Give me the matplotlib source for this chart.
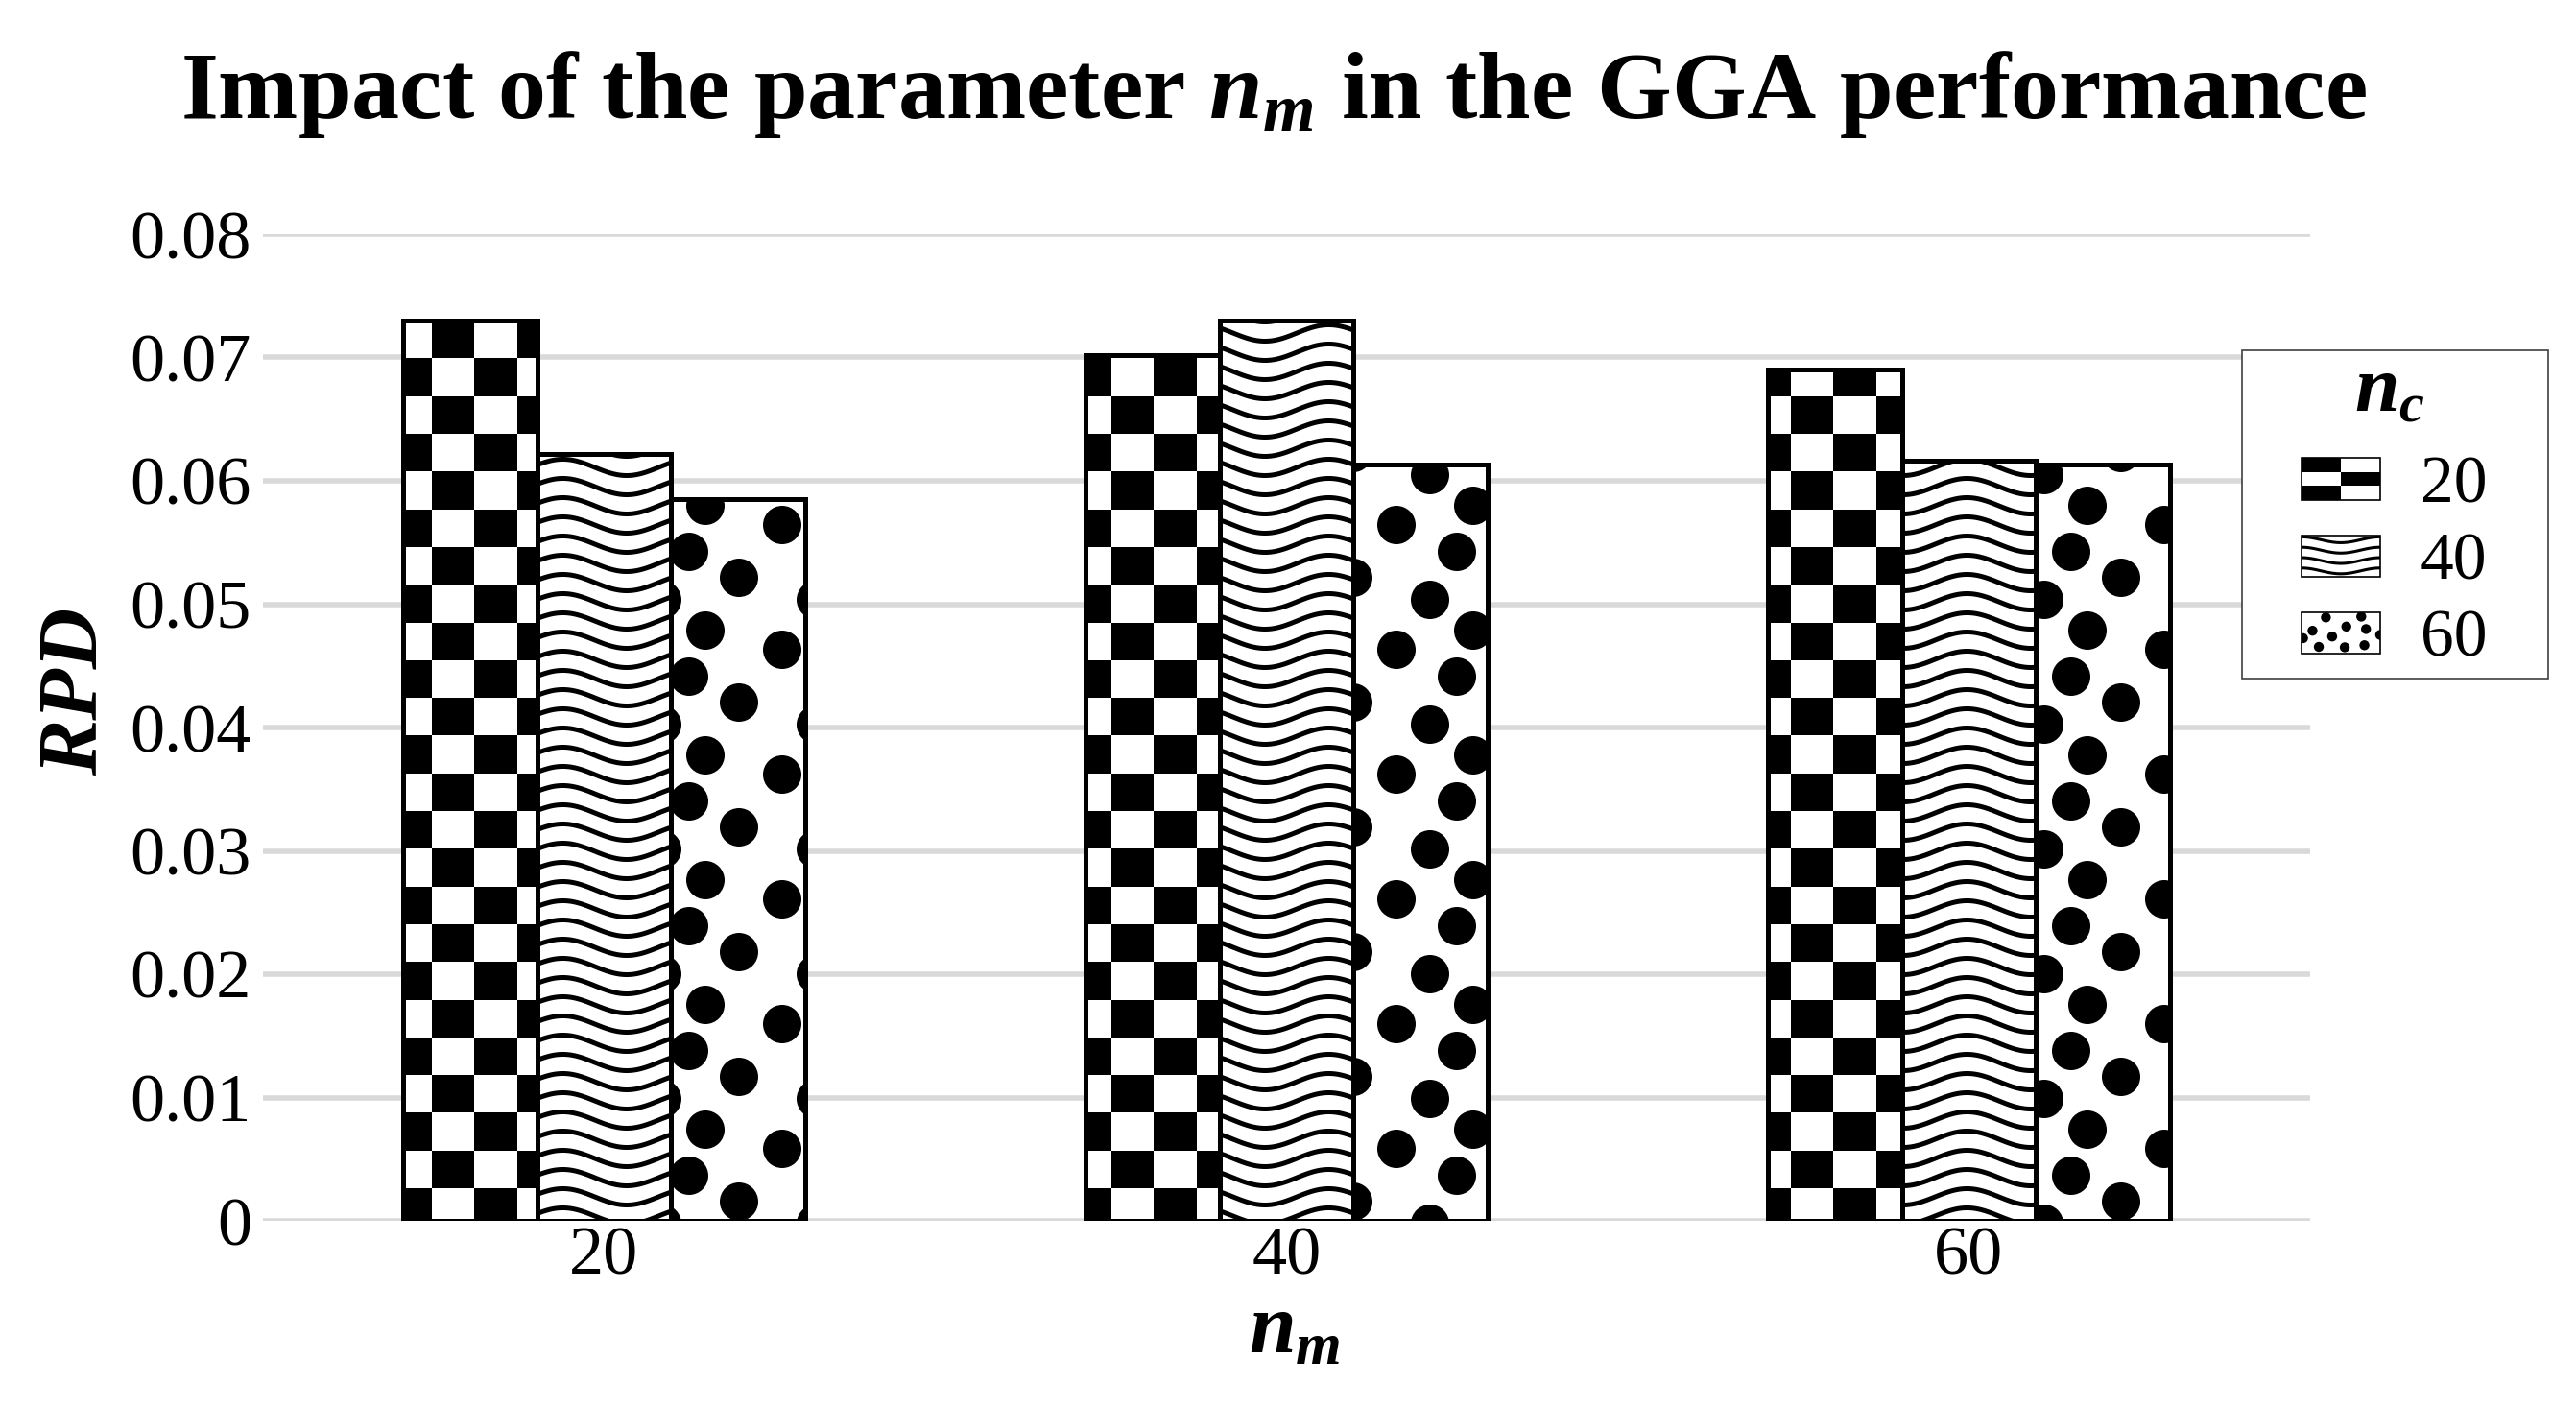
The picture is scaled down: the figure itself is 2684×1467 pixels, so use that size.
import numpy as np
import matplotlib
matplotlib.use("Agg")
import matplotlib.pyplot as plt
from matplotlib.patches import Rectangle, Circle
from matplotlib.collections import PatchCollection, LineCollection
from matplotlib.lines import Line2D
from matplotlib.transforms import IdentityTransform
from matplotlib.legend_handler import HandlerBase

# ---- data ----
nm_values = ["20", "40", "60"]      # x axis categories (n_m)
nc_values = ["20", "40", "60"]      # series (n_c)
rpd_nc20 = [0.0730, 0.0702, 0.0690]
rpd_nc40 = [0.0622, 0.0730, 0.0616]
rpd_nc60 = [0.0585, 0.0613, 0.0613]
y_ticks = [0, 0.01, 0.02, 0.03, 0.04, 0.05, 0.06, 0.07, 0.08]
y_tick_labels = ["0", "0.01", "0.02", "0.03", "0.04", "0.05", "0.06", "0.07", "0.08"]

W, H, DPI = 2684, 1467, 100

plt.rcParams["font.family"] = ["Liberation Serif", "DejaVu Serif"]
plt.rcParams["mathtext.fontset"] = "custom"
plt.rcParams["mathtext.it"] = "Liberation Serif:italic:bold"
plt.rcParams["mathtext.rm"] = "Liberation Serif:bold"
plt.rcParams["mathtext.bf"] = "Liberation Serif:bold"

fig = plt.figure(figsize=(W / DPI, H / DPI), dpi=DPI)
ax = fig.add_axes([274 / W, 1 - 1272 / H, 2133 / W, 1028 / H])
ax.set_xlim(-0.5, 2.5)
ax.set_ylim(0, 0.08)

width = 0.196
x = np.arange(len(nm_values))
series = [rpd_nc20, rpd_nc40, rpd_nc60]
kinds = ["checker", "waves", "dots"]


def px_box(bar):
    (x0, y0), (x1, y1) = ax.transData.transform(
        [(bar.get_x(), bar.get_y()),
         (bar.get_x() + bar.get_width(), bar.get_y() + bar.get_height())])
    return x0, y0, x1, y1


def attach(coll, bar):
    ax.add_collection(coll, autolim=False)
    # clip after adding, otherwise add_collection swaps in the axes patch
    coll.set_clip_path(bar)


def add_checker(bar):
    x0, y0, x1, y1 = px_box(bar)
    cw, ch = 44.25, 39.3
    ox, oy = 450, H - 1238
    cells = []
    for i in range(int(np.floor((x0 - ox) / cw)) - 1, int(np.ceil((x1 - ox) / cw)) + 1):
        for j in range(int(np.floor((y0 - oy) / ch)) - 1, int(np.ceil((y1 - oy) / ch)) + 1):
            if (i + j) % 2 == 0:
                cells.append(Rectangle((ox + i * cw, oy + j * ch), cw, ch))
    pc = PatchCollection(cells, facecolor="black", edgecolor="none",
                         transform=IdentityTransform(), zorder=2.5)
    attach(pc, bar)


def add_waves(bar):
    x0, y0, x1, y1 = px_box(bar)
    step, amp, lam = 20.0, 8.5, 133.0
    xs = np.linspace(x0 - 5, x1 + 5, 150)
    segs = []
    for yb in np.arange(np.floor(y0 / step) * step - step, y1 + 2 * step, step):
        segs.append(np.column_stack([xs, yb - amp * np.cos(2 * np.pi * (xs - 653) / lam)]))
    lc = LineCollection(segs, colors="black", linewidths=3.6,
                        transform=IdentityTransform(), zorder=2.5)
    attach(lc, bar)


DOT_TILE = [(15, 10), (95, 30), (50, 62), (130, 85), (78, 112)]


def add_dots(bar):
    x0, y0, x1, y1 = px_box(bar)
    tw, th, r = 160, 130, 20
    circles = []
    for i in range(int(np.floor(x0 / tw)) - 1, int(np.ceil(x1 / tw)) + 1):
        for j in range(int(np.floor(y0 / th)) - 1, int(np.ceil(y1 / th)) + 1):
            for dx, dy in DOT_TILE:
                circles.append(Circle((i * tw + dx, j * th + dy), r))
    pc = PatchCollection(circles, facecolor="black", edgecolor="none",
                         transform=IdentityTransform(), zorder=2.5)
    attach(pc, bar)


fillers = {"checker": add_checker, "waves": add_waves, "dots": add_dots}

for k, (vals, kind) in enumerate(zip(series, kinds)):
    pos = x + (k - 1) * width
    bars = ax.bar(pos, vals, width, color="white", edgecolor="none", zorder=2)
    for b in bars:
        fillers[kind](b)
    ax.bar(pos, vals, width, fill=False, edgecolor="black", linewidth=3.6, zorder=3)

ax.set_axisbelow(True)
ax.yaxis.grid(True, color="#d9d9d9", linewidth=4)
for s in ax.spines.values():
    s.set_visible(False)

ax.set_yticks(y_ticks, y_tick_labels, fontsize=52)
ax.set_xticks(x, nm_values, fontsize=52)
ax.tick_params(axis="both", length=0)
ax.tick_params(axis="y", pad=8.6)
ax.tick_params(axis="x", pad=4)

ax.set_xlabel("$n_m$", fontsize=63, va="baseline")
ax.xaxis.set_label_coords(0.504, -0.134)
ax.set_ylabel("RPD", fontsize=63, fontweight="bold", fontstyle="italic", va="center", ha="center")
ax.yaxis.set_label_coords(-0.091, 0.537)

fig.text(1327 / W, 1 - 123 / H, "Impact of the parameter $n_m$ in the GGA performance",
         fontsize=72, fontweight="bold", ha="center", va="baseline")


# ---- legend with pattern swatches ----
DOT_SWATCH = [(0.14, 0.55), (0.22, 0.16), (0.31, 0.87), (0.39, 0.41), (0.57, 0.65),
              (0.55, 0.15), (0.76, 0.89), (0.82, 0.59), (0.80, 0.20), (0.02, 0.37), (1.0, 0.45)]


class PatternHandler(HandlerBase):
    def __init__(self, kind):
        super().__init__()
        self.kind = kind

    def create_artists(self, legend, orig_handle, xdescent, ydescent, width, height, fontsize, trans):
        x0, y0 = -xdescent, -ydescent
        bg = Rectangle((x0, y0), width, height, facecolor="white", edgecolor="none", transform=trans)
        arts = []
        if self.kind == "checker":
            for i in range(2):
                for j in range(3):
                    if (i + j) % 2 == 0:
                        arts.append(Rectangle((x0 + i * width / 2, y0 + j * height / 3), width / 2, height / 3,
                                              facecolor="black", edgecolor="none", transform=trans))
        elif self.kind == "waves":
            xs = np.linspace(x0, x0 + width, 60)
            for k in range(4):
                yb = y0 + (k + 0.55) * height / 4
                ys = yb - 0.07 * height * np.cos(2 * np.pi * (xs - x0 - width * 0.5) / width)
                arts.append(Line2D(xs, ys, color="black", lw=2.2, transform=trans))
        else:
            for fx, fy in DOT_SWATCH:
                arts.append(Circle((x0 + fx * width, y0 + fy * height), 0.12 * height,
                                   facecolor="black", edgecolor="none", transform=trans))
        for a in arts:
            a.set_clip_path(bg)
        outline = Rectangle((x0, y0), width, height, fill=False, edgecolor="black", lw=1.2, transform=trans)
        return [bg] + arts + [outline]


fig.add_artist(Rectangle((2336 / W, 1 - 707 / H), 319 / W, 342 / H, transform=fig.transFigure,
                         facecolor="white", edgecolor="#3f3f3f", lw=1.2, zorder=4))
proxies = [Rectangle((0, 0), 1, 1) for _ in kinds]
fig.legend(proxies, nc_values, handler_map={p: PatternHandler(k) for p, k in zip(proxies, kinds)},
           loc="upper left", bbox_to_anchor=(2398 / W, 1 - 475 / H), frameon=False,
           fontsize=50, handlelength=1.18, handleheight=0.58, handletextpad=0.6,
           labelspacing=0.24, borderpad=0, borderaxespad=0)
fig.text(2490 / W, 1 - 428 / H, "$n_c$", fontsize=60, ha="center", va="baseline", zorder=6)

fig.savefig("out.png", dpi=DPI)
